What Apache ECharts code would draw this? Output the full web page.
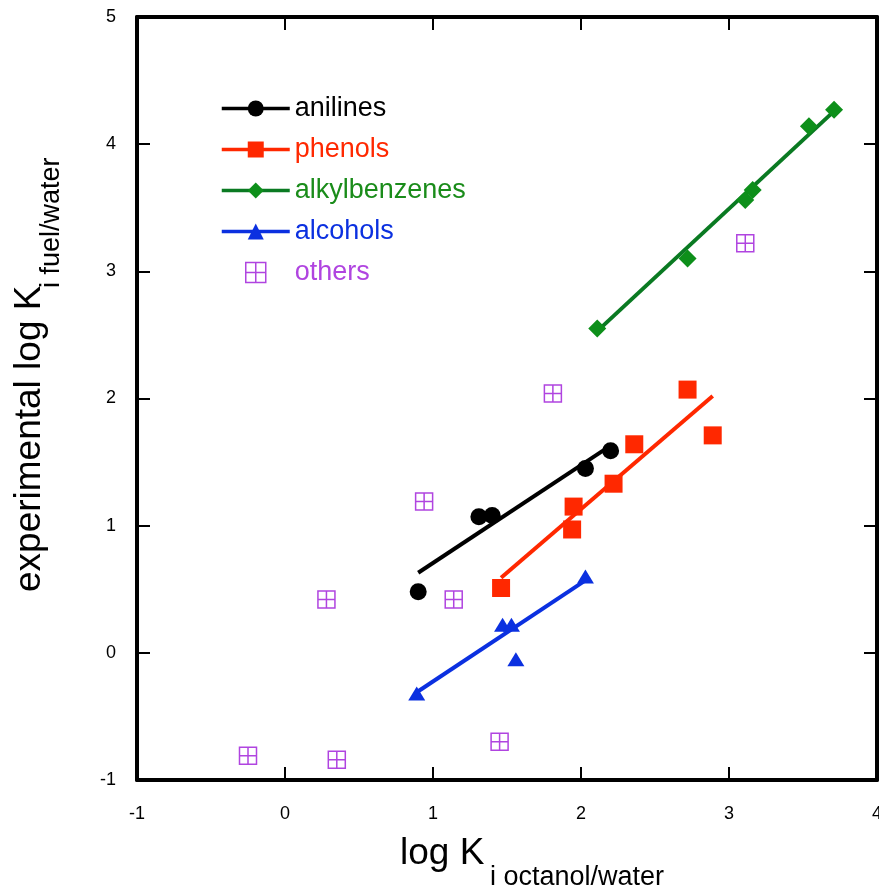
<!DOCTYPE html>
<html>
<head>
<meta charset="utf-8">
<script src="https://cdn.jsdelivr.net/npm/echarts@6/dist/echarts.min.js"></script>
<style>
html,body{margin:0;padding:0;background:#fff;}
#chart{width:879px;height:892px;}
</style>
</head>
<body>
<div id="chart"></div>
<script>
// ---- data ----
var categories = ['anilines', 'phenols', 'alkylbenzenes', 'alcohols', 'others'];
var xTicks = [-1, 0, 1, 2, 3, 4];
var yTicks = [-1, 0, 1, 2, 3, 4, 5];

var anilinesX = [0.90, 1.31, 1.40, 2.03, 2.20];
var anilinesY = [0.48, 1.07, 1.08, 1.45, 1.59];
var phenolsX = [1.46, 1.94, 1.95, 2.22, 2.36, 2.72, 2.89];
var phenolsY = [0.51, 0.97, 1.15, 1.33, 1.64, 2.07, 1.71];
var alkylX = [2.11, 2.72, 3.11, 3.16, 3.54, 3.71];
var alkylY = [2.55, 3.10, 3.56, 3.64, 4.14, 4.27];
var alcoholsX = [0.89, 1.47, 1.53, 1.56, 2.03];
var alcoholsY = [-0.32, 0.22, 0.22, -0.05, 0.60];
var othersX = [-0.25, 0.35, 0.28, 0.94, 1.14, 1.45, 1.81, 3.11];
var othersY = [-0.81, -0.84, 0.42, 1.19, 0.42, -0.70, 2.04, 3.22];

// fitted lines (end points)
var anilinesFitX = [0.90, 2.20];
var anilinesFitY = [0.63, 1.63];
var phenolsFitX = [1.46, 2.89];
var phenolsFitY = [0.59, 2.02];
var alkylFitX = [2.11, 3.71];
var alkylFitY = [2.53, 4.26];
var alcoholsFitX = [0.89, 2.03];
var alcoholsFitY = [-0.31, 0.57];

function pairs(xs, ys) { return xs.map(function (x, i) { return [x, ys[i]]; }); }

var colors = {
  anilines: '#000000',
  phenols: '#ff2800',
  alkylMarker: '#0d8f1a',
  alkylLine: '#0a7a22',
  alkylText: '#1a8c1a',
  alcohols: '#0b30e0',
  others: '#b044e0'
};
var FONT = '"Liberation Sans", Arial, Helvetica, sans-serif';
var othersSymbol = 'path://M0,0L16,0L16,16L0,16Z M8,0L8,16 M0,8L16,8';

var chart = echarts.init(document.getElementById('chart'), null, {renderer: 'canvas'});

var tickCommon = {show: true, inside: true, length: 13, lineStyle: {color: '#000', width: 2}};
var lineCommon = {show: true, onZero: false, lineStyle: {color: '#000', width: 4}};

function fitSeries(name, xs, ys, lineColor, markColor, symbol) {
  return {
    name: name, type: 'line', data: pairs(xs, ys),
    symbol: symbol, showSymbol: false, symbolSize: 16,
    lineStyle: {color: lineColor, width: 4},
    itemStyle: {color: markColor},
    silent: true, animation: false, z: 2
  };
}

var option = {
  animation: false,
  grid: {left: 137, right: 2, top: 17, bottom: 112, containLabel: false, outerBoundsMode: 'none'},
  xAxis: [{
    type: 'value', min: -1, max: 4, interval: 1, position: 'bottom',
    axisLine: lineCommon, axisTick: tickCommon, splitLine: {show: false},
    axisLabel: {margin: 25, fontSize: 18, color: '#000', fontFamily: FONT,
      formatter: function (v) { return xTicks.indexOf(v) >= 0 ? String(v) : ''; }}
  }, {
    type: 'value', min: -1, max: 4, interval: 1, position: 'top',
    axisLine: lineCommon, axisTick: tickCommon, splitLine: {show: false},
    axisLabel: {show: false}
  }],
  yAxis: [{
    type: 'value', min: -1, max: 5, interval: 1, position: 'left',
    axisLine: lineCommon, axisTick: tickCommon, splitLine: {show: false},
    axisLabel: {margin: 21, fontSize: 18, color: '#000', fontFamily: FONT,
      formatter: function (v) { return yTicks.indexOf(v) >= 0 ? String(v) : ''; }}
  }, {
    type: 'value', min: -1, max: 5, interval: 1, position: 'right',
    axisLine: lineCommon, axisTick: tickCommon, splitLine: {show: false},
    axisLabel: {show: false}
  }],
  legend: {
    orient: 'vertical', left: 220, top: 95, padding: 0,
    itemWidth: 68, itemHeight: 20, itemGap: 14,
    selectedMode: false,
    lineStyle: {width: 3.5},
    textStyle: {fontSize: 27, fontFamily: FONT, lineHeight: 20, padding: [0, 0, 0, 0]},
    data: [
      {name: categories[0], textStyle: {color: colors.anilines}},
      {name: categories[1], textStyle: {color: colors.phenols}},
      {name: categories[2], textStyle: {color: colors.alkylText}},
      {name: categories[3], textStyle: {color: colors.alcohols}},
      {name: categories[4], textStyle: {color: colors.others}, itemStyle: {borderWidth: 1.5}}
    ]
  },
  series: [
    fitSeries(categories[0], anilinesFitX, anilinesFitY, colors.anilines, colors.anilines, 'circle'),
    fitSeries(categories[1], phenolsFitX, phenolsFitY, colors.phenols, colors.phenols, 'rect'),
    fitSeries(categories[2], alkylFitX, alkylFitY, colors.alkylLine, colors.alkylMarker, 'diamond'),
    fitSeries(categories[3], alcoholsFitX, alcoholsFitY, colors.alcohols, colors.alcohols, 'triangle'),
    {name: categories[0], type: 'scatter', data: pairs(anilinesX, anilinesY), symbol: 'circle', symbolSize: 17,
      itemStyle: {color: colors.anilines, opacity: 1}, z: 3},
    {name: categories[1], type: 'scatter', data: pairs(phenolsX, phenolsY), symbol: 'rect', symbolSize: 18,
      itemStyle: {color: colors.phenols, opacity: 1}, z: 3},
    {name: categories[2], type: 'scatter', data: pairs(alkylX, alkylY), symbol: 'diamond', symbolSize: 18,
      itemStyle: {color: colors.alkylMarker, opacity: 1}, z: 3},
    {name: categories[3], type: 'scatter', data: pairs(alcoholsX, alcoholsY), symbol: 'triangle', symbolSize: [17, 14],
      itemStyle: {color: colors.alcohols, opacity: 1}, z: 3},
    {name: categories[4], type: 'scatter', data: pairs(othersX, othersY), symbol: othersSymbol, symbolSize: 17,
      itemStyle: {color: 'rgba(255,255,255,0)', borderColor: colors.others, borderWidth: 1.5, opacity: 1}, z: 3}
  ],
  graphic: [
    {type: 'text', x: 400, y: 854, silent: true,
      style: {text: 'log K', fontSize: 37, fontFamily: FONT, fill: '#000', align: 'left', verticalAlign: 'middle'}},
    {type: 'text', x: 490, y: 878, silent: true,
      style: {text: 'i octanol/water', fontSize: 27, fontFamily: FONT, fill: '#000', align: 'left', verticalAlign: 'middle'}},
    {type: 'text', x: 30, y: 592, rotation: Math.PI / 2, silent: true,
      style: {text: 'experimental log K', fontSize: 37, fontFamily: FONT, fill: '#000', align: 'left', verticalAlign: 'middle'}},
    {type: 'text', x: 52, y: 288, rotation: Math.PI / 2, silent: true,
      style: {text: 'i fuel/water', fontSize: 27, fontFamily: FONT, fill: '#000', align: 'left', verticalAlign: 'middle'}}
  ]
};
chart.setOption(option);
</script>
</body>
</html>
